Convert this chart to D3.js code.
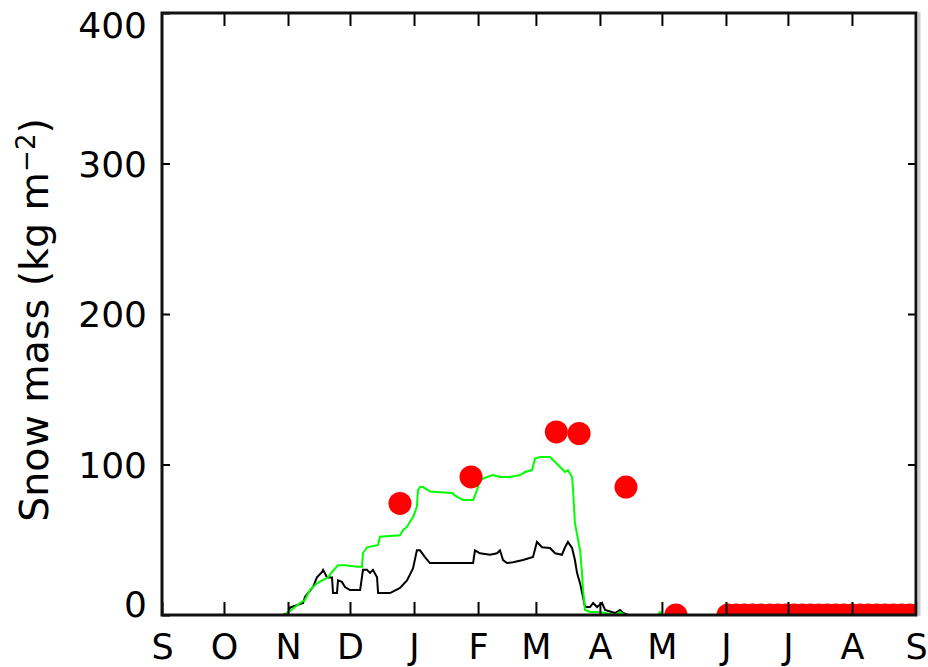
<!DOCTYPE html>
<html>
<head>
<meta charset="utf-8">
<script src="https://cdn.jsdelivr.net/npm/d3@7"></script>
<style>
  html, body { margin: 0; padding: 0; background: #fff; }
  svg { display: block; }
  text { font-family: "DejaVu Sans", sans-serif; fill: #000; }
</style>
</head>
<body>
<svg id="chart" width="928" height="667"></svg>
<script>
// Month initials along the water year (Sep to Sep) and the day each month starts
const months = ["S", "O", "N", "D", "J", "F", "M", "A", "M", "J", "J", "A", "S"];
const monthStartDays = [0, 30, 61, 91, 122, 153, 181, 212, 242, 273, 303, 334, 365];
const yTicks = [0, 100, 200, 300, 400];

// Modelled snow mass, [day of water year, kg m-2]
const blackSeries = [
  [0, 0], [58.6, 0], [61.0, 1.3], [62.0, 5], [68.3, 8], [69.2, 12], [73.1, 18.6], [75.0, 25],
  [77.5, 28.6], [78.0, 30], [79.9, 25], [82.3, 25], [82.8, 14.6], [84.7, 14.6], [85.2, 23],
  [87.1, 22], [88.6, 18.6], [91.0, 16.6], [95.9, 16.6], [97.3, 30], [99.2, 30], [100.7, 28],
  [102.1, 30], [104.1, 25], [104.6, 14.6], [110.4, 14.6], [115.2, 18], [118.6, 23], [121.5, 31],
  [123.4, 43], [124.9, 43], [127.3, 38.5], [129.7, 34.5], [150.6, 34.5], [151.5, 43], [153.9, 41],
  [158.8, 40], [162.2, 41], [163.6, 43], [165.1, 36.5], [167.0, 34.5], [169.9, 35], [174.8, 36.5],
  [179.6, 38.5], [181.5, 48.5], [184.0, 45], [187.8, 44.5], [190.3, 41], [193.6, 40], [195.1, 45],
  [196.5, 48.5], [198.5, 44.5], [199.9, 36.5], [200.9, 28], [202.4, 21], [203.8, 12], [204.8, 5.3],
  [207.2, 5.3], [208.7, 8], [210.6, 5.3], [213.0, 8], [214.5, 3.3], [219.3, 1.3], [221.7, 3.3],
  [223.2, 1.3], [225.6, 0], [365, 0]
];

const greenSeries = [
  [0, 0], [59.5, 0], [66.8, 8], [69.2, 10], [71.6, 16.6], [75, 21], [77.5, 23], [80.4, 25],
  [82.3, 28.6], [85.2, 33], [88.6, 33], [94.4, 32], [96.8, 32], [97.3, 41], [99.2, 45],
  [104.6, 46.5], [105.5, 52], [115.2, 53], [116.7, 56.5], [118.6, 58.5], [120, 62], [121.5, 65],
  [123.4, 72], [123.9, 83], [124.9, 85], [126.4, 85], [129.7, 82], [140.4, 81], [142.8, 78.4],
  [145.7, 76.4], [150.6, 76.4], [152.5, 83], [153.9, 89.7], [157.3, 91.7], [160.2, 93],
  [163.6, 91.7], [168.5, 91.7], [173.3, 93], [175.7, 95], [179.1, 96.3], [180.6, 104], [183, 105],
  [187.8, 105], [190.3, 101.7], [192.7, 98.3], [195.1, 95], [196.5, 96.3], [198.5, 91.7], [199, 83],
  [199.9, 61], [201.4, 50], [202.4, 43], [203.3, 28], [203.8, 16.6], [204.8, 3.3], [207.2, 2],
  [212, 2], [214.5, 1.3], [219.3, 0], [221.7, 2], [224, 0], [240, 0], [241, 2], [242.5, 0], [365, 0]
];

// Observed snow mass
const observations = [
  [115.2, 74.1], [149.6, 91.7], [190.9, 121.6], [201.9, 120.6], [224.6, 85], [248.8, 0],
  [274, 0], [278, 0], [282, 0], [286, 0], [290, 0], [294, 0], [298, 0], [302, 0], [306, 0],
  [310, 0], [314, 0], [318, 0], [322, 0], [326, 0], [330, 0], [334, 0], [338, 0], [342, 0],
  [346, 0], [350, 0], [354, 0], [358, 0], [362, 0], [366, 0]
];

const svg = d3.select("#chart");
const plotLeft = 162, plotRight = 916, plotTop = 13, plotBottom = 615;

const x = d3.scaleLinear().domain([0, 365]).range([plotLeft, plotRight]);
const y = d3.scaleLinear().domain([0, 400]).range([plotBottom, plotTop]);

svg.append("defs").append("clipPath").attr("id", "plot-clip")
  .append("rect").attr("x", plotLeft).attr("y", plotTop)
  .attr("width", plotRight - plotLeft).attr("height", plotBottom - plotTop);

const plot = svg.append("g").attr("clip-path", "url(#plot-clip)");
const line = d3.line().x(d => x(d[0])).y(d => y(d[1]));

plot.append("path").datum(blackSeries)
  .attr("d", line).attr("fill", "none")
  .attr("stroke", "#000").attr("stroke-width", 2);

plot.append("path").datum(greenSeries)
  .attr("d", line).attr("fill", "none")
  .attr("stroke", "#00ff00").attr("stroke-width", 2);

plot.selectAll("circle").data(observations).join("circle")
  .attr("cx", d => x(d[0])).attr("cy", d => y(d[1]))
  .attr("r", 11.5).attr("fill", "#ff0000");

// Axes: inward ticks on all four sides
function styleAxis(g) {
  g.select(".domain").remove();
  g.selectAll(".tick line").attr("stroke", "#000").attr("stroke-width", 2);
}

const xBottom = svg.append("g").attr("transform", `translate(0,${plotBottom})`)
  .call(d3.axisBottom(x).tickValues(monthStartDays).tickSize(-13)
    .tickFormat((d, i) => months[i]))
  .call(styleAxis);
xBottom.selectAll(".tick text")
  .attr("y", 44).attr("dy", 0)
  .style("font-family", "'DejaVu Sans', sans-serif").style("font-size", "35px");

svg.append("g").attr("transform", `translate(0,${plotTop})`)
  .call(d3.axisTop(x).tickValues(monthStartDays.slice(1, -1)).tickSize(-13).tickFormat(""))
  .call(styleAxis);

const yLeft = svg.append("g").attr("transform", `translate(${plotLeft},0)`)
  .call(d3.axisLeft(y).tickValues(yTicks).tickSize(-8).tickPadding(15))
  .call(styleAxis);
yLeft.selectAll(".tick text")
  .style("font-family", "'DejaVu Sans', sans-serif").style("font-size", "36px")
  .attr("dy", d => d === 0 ? "0.05em" : d === 400 ? "0.68em" : "0.36em");

svg.append("g").attr("transform", `translate(${plotRight},0)`)
  .call(d3.axisRight(y).tickValues(yTicks.slice(1, -1)).tickSize(-8).tickFormat(""))
  .call(styleAxis);

// Plot frame
svg.append("rect")
  .attr("x", plotLeft).attr("y", plotTop)
  .attr("width", plotRight - plotLeft).attr("height", plotBottom - plotTop)
  .attr("fill", "none").attr("stroke", "#111").attr("stroke-width", 3);
svg.append("line")
  .attr("x1", plotRight + 3).attr("x2", plotRight + 3)
  .attr("y1", plotTop - 1).attr("y2", plotBottom + 1)
  .attr("stroke", "#cccccc").attr("stroke-width", 3);

// Y axis title
const yTitle = svg.append("text")
  .attr("transform", `translate(48,320) rotate(-90)`)
  .attr("text-anchor", "middle")
  .style("font-size", "39.5px");
yTitle.append("tspan").text("Snow mass (kg m");
yTitle.append("tspan").attr("dy", -13).style("font-size", "26px").text("−2");
yTitle.append("tspan").attr("dy", 13).text(")");
</script>
</body>
</html>
